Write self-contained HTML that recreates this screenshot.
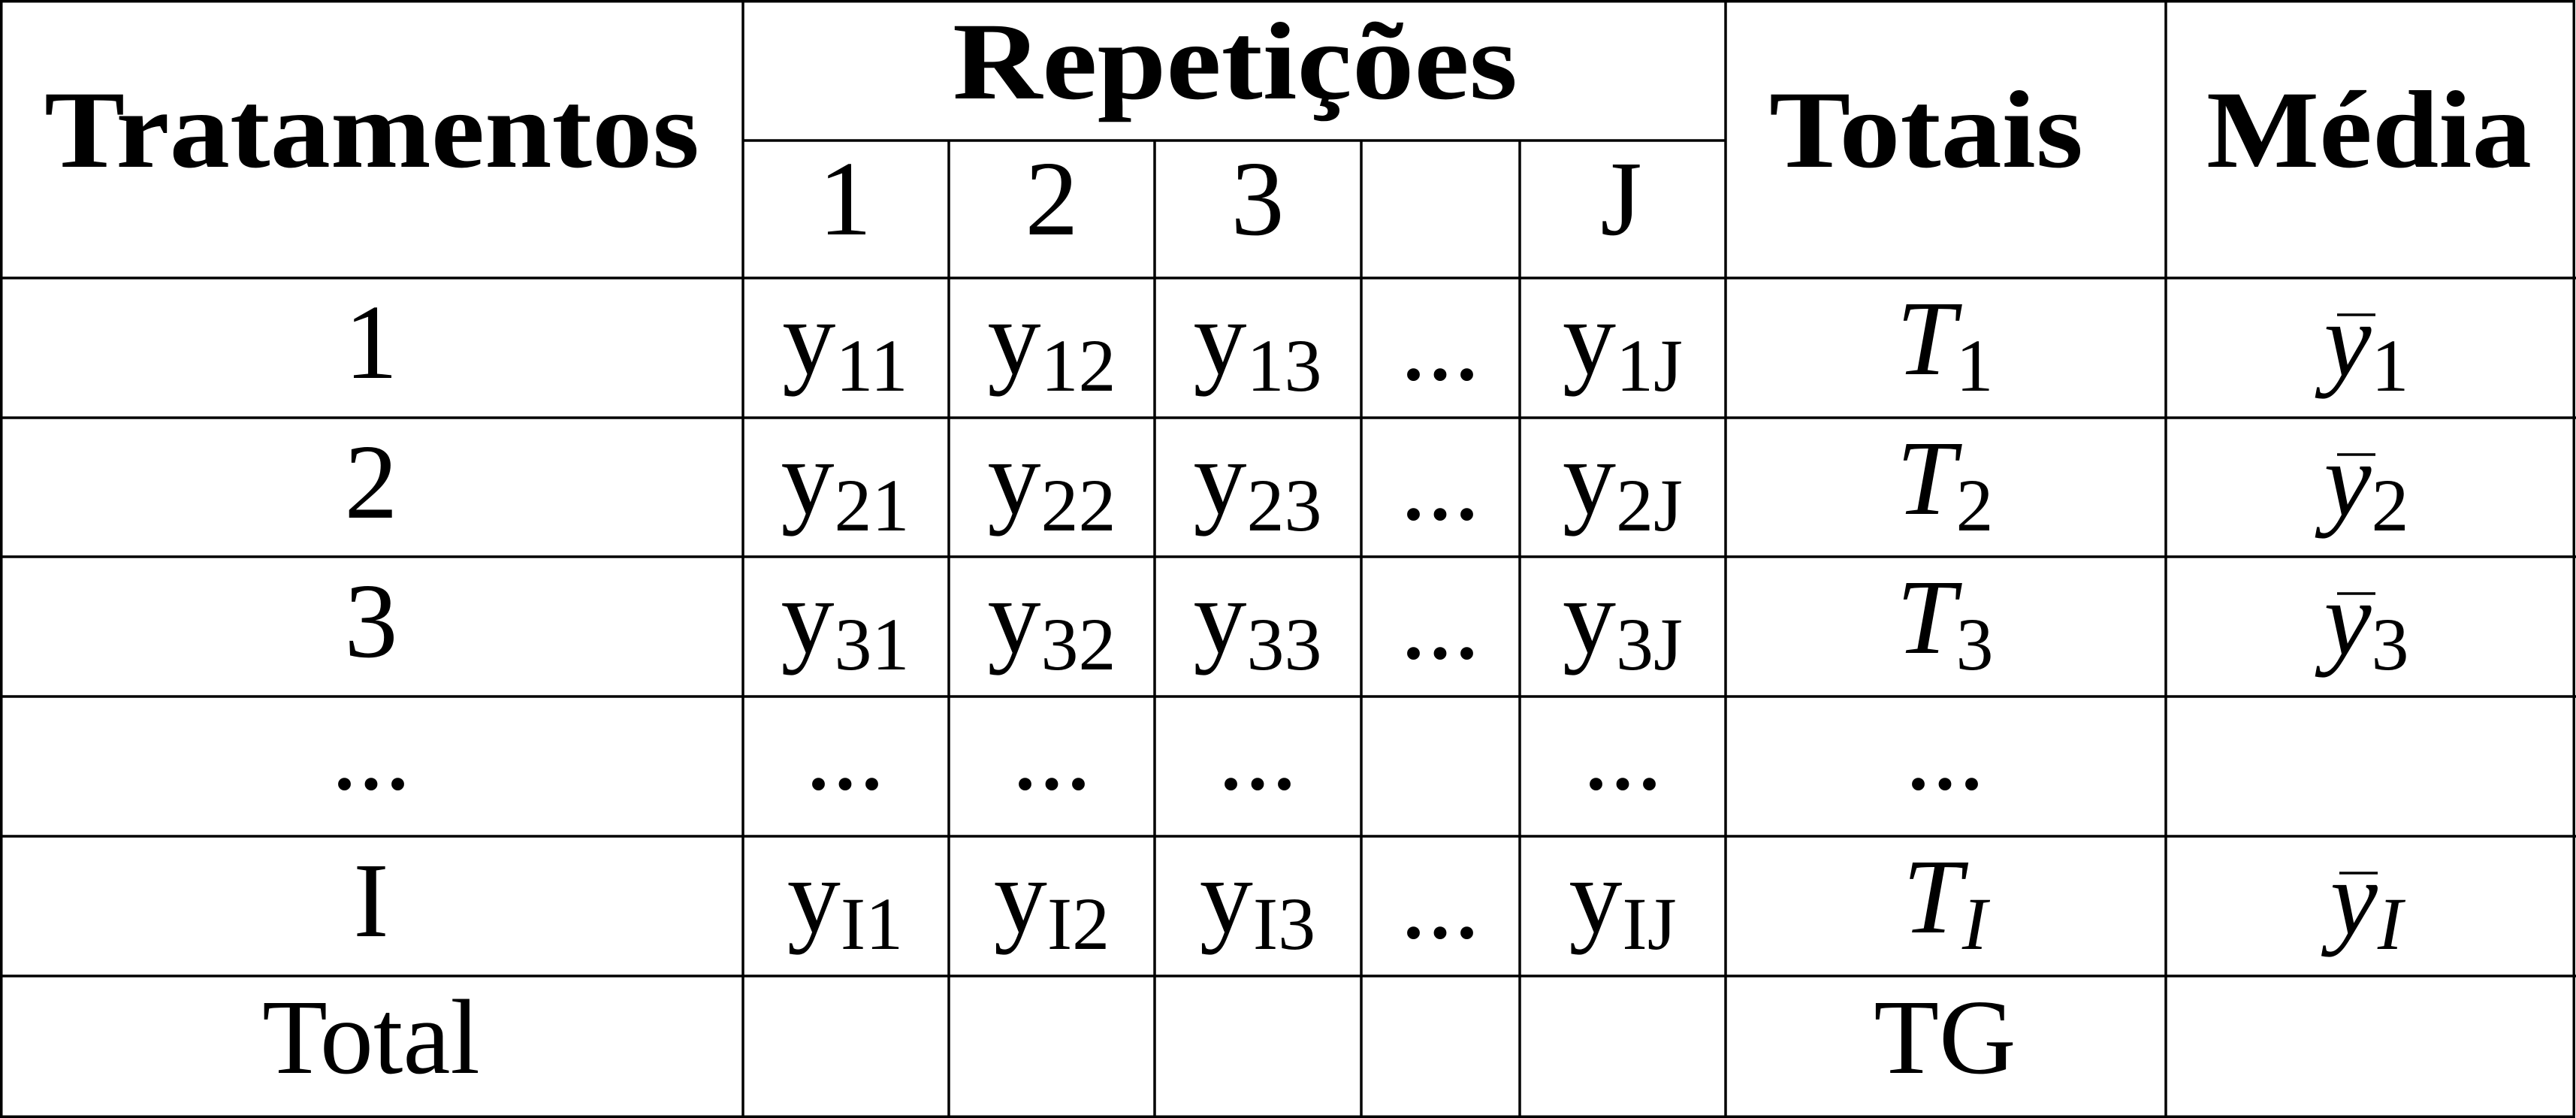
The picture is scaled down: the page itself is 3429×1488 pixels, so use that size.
<!DOCTYPE html>
<html><head><meta charset="utf-8"><style>
html,body{margin:0;padding:0;background:#fff;}
svg{display:block;}
text{font-family:"Liberation Serif","DejaVu Serif",serif;fill:#000;}
.b{font-weight:bold;font-size:147px;}
.n{font-size:142px;}
.s{font-size:100px;}
.i{font-style:italic;}
</style></head><body>
<svg width="3429" height="1488" viewBox="0 0 3429 1488" xmlns="http://www.w3.org/2000/svg">
<g stroke="#000" stroke-width="3.5" fill="none">
<rect x="1.75" y="1.75" width="3424.5" height="1484.5"/>
<line x1="989" y1="0" x2="989" y2="1488"/>
<line x1="2297" y1="0" x2="2297" y2="1488"/>
<line x1="2883" y1="0" x2="2883" y2="1488"/>
<line x1="989" y1="187" x2="2297" y2="187"/>
<line x1="1263" y1="187" x2="1263" y2="1488"/>
<line x1="1537" y1="187" x2="1537" y2="1488"/>
<line x1="1812" y1="187" x2="1812" y2="1488"/>
<line x1="2023" y1="187" x2="2023" y2="1488"/>
<line x1="0" y1="370" x2="3429" y2="370"/>
<line x1="0" y1="556" x2="3429" y2="556"/>
<line x1="0" y1="741" x2="3429" y2="741"/>
<line x1="0" y1="927" x2="3429" y2="927"/>
<line x1="0" y1="1113" x2="3429" y2="1113"/>
<line x1="0" y1="1299" x2="3429" y2="1299"/>
</g>
<text class="b" x="59" y="222" textLength="872" lengthAdjust="spacingAndGlyphs">Tratamentos</text>
<text class="b" x="1268" y="131" textLength="752" lengthAdjust="spacingAndGlyphs">Repetições</text>
<text class="b" x="2355" y="222" textLength="418" lengthAdjust="spacingAndGlyphs">Totais</text>
<text class="b" x="2937" y="222" textLength="433" lengthAdjust="spacingAndGlyphs">Média</text>
<g class="n" text-anchor="middle">
<text x="1125" y="312">1</text>
<text x="1400" y="312">2</text>
<text x="1674" y="312">3</text>
<text x="2158" y="312">J</text>
<text x="494" y="503">1</text>
<text x="494" y="689">2</text>
<text x="494" y="874">3</text>
<text x="494" y="1050">...</text>
<text x="494" y="1246">I</text>
<text x="494" y="1428">Total</text>
<text x="1125" y="1050">...</text>
<text x="1400" y="1050">...</text>
<text x="1674" y="1050">...</text>
<text x="2160" y="1050">...</text>
<text x="2589" y="1050">...</text>
<text x="1917" y="505">...</text>
<text x="1917" y="691">...</text>
<text x="1917" y="876">...</text>
<text x="1917" y="1248">...</text>
<text x="2589" y="1428">TG</text>
</g>
<!-- y cells -->
<g>
<text x="1125" y="497" text-anchor="middle"><tspan class="n">y</tspan><tspan class="s" dy="23">11</tspan></text>
<text x="1400" y="497" text-anchor="middle"><tspan class="n">y</tspan><tspan class="s" dy="23">12</tspan></text>
<text x="1674" y="497" text-anchor="middle"><tspan class="n">y</tspan><tspan class="s" dy="23">13</tspan></text>
<text x="2160" y="497" text-anchor="middle"><tspan class="n">y</tspan><tspan class="s" dy="23">1J</tspan></text>
<text x="1125" y="683" text-anchor="middle"><tspan class="n">y</tspan><tspan class="s" dy="23">21</tspan></text>
<text x="1400" y="683" text-anchor="middle"><tspan class="n">y</tspan><tspan class="s" dy="23">22</tspan></text>
<text x="1674" y="683" text-anchor="middle"><tspan class="n">y</tspan><tspan class="s" dy="23">23</tspan></text>
<text x="2160" y="683" text-anchor="middle"><tspan class="n">y</tspan><tspan class="s" dy="23">2J</tspan></text>
<text x="1125" y="868" text-anchor="middle"><tspan class="n">y</tspan><tspan class="s" dy="23">31</tspan></text>
<text x="1400" y="868" text-anchor="middle"><tspan class="n">y</tspan><tspan class="s" dy="23">32</tspan></text>
<text x="1674" y="868" text-anchor="middle"><tspan class="n">y</tspan><tspan class="s" dy="23">33</tspan></text>
<text x="2160" y="868" text-anchor="middle"><tspan class="n">y</tspan><tspan class="s" dy="23">3J</tspan></text>
<text x="1125" y="1240" text-anchor="middle"><tspan class="n">y</tspan><tspan class="s" dy="23">I1</tspan></text>
<text x="1400" y="1240" text-anchor="middle"><tspan class="n">y</tspan><tspan class="s" dy="23">I2</tspan></text>
<text x="1674" y="1240" text-anchor="middle"><tspan class="n">y</tspan><tspan class="s" dy="23">I3</tspan></text>
<text x="2160" y="1240" text-anchor="middle"><tspan class="n">y</tspan><tspan class="s" dy="23">IJ</tspan></text>
</g>
<!-- T cells -->
<g>
<text x="2589" y="498" text-anchor="middle"><tspan class="n i">T</tspan><tspan class="s" dy="22">1</tspan></text>
<text x="2589" y="684" text-anchor="middle"><tspan class="n i">T</tspan><tspan class="s" dy="22">2</tspan></text>
<text x="2589" y="869" text-anchor="middle"><tspan class="n i">T</tspan><tspan class="s" dy="22">3</tspan></text>
<text x="2589" y="1241" text-anchor="middle"><tspan class="n i">T</tspan><tspan class="s i" dy="22">I</tspan></text>
</g>
<!-- ybar cells -->
<g>
<text x="3150" y="500" text-anchor="middle"><tspan class="n i">y</tspan><tspan class="s" dy="20">1</tspan></text>
<text x="3150" y="686" text-anchor="middle"><tspan class="n i">y</tspan><tspan class="s" dy="20">2</tspan></text>
<text x="3150" y="871" text-anchor="middle"><tspan class="n i">y</tspan><tspan class="s" dy="20">3</tspan></text>
<text x="3150" y="1243" text-anchor="middle"><tspan class="n i">y</tspan><tspan class="s i" dy="20">I</tspan></text>
</g>
<g stroke="#000" stroke-width="3.5">
<line x1="3111" y1="419" x2="3162" y2="419"/>
<line x1="3111" y1="605" x2="3162" y2="605"/>
<line x1="3111" y1="790" x2="3162" y2="790"/>
<line x1="3114" y1="1162" x2="3165" y2="1162"/>
</g>
</svg>
</body></html>
